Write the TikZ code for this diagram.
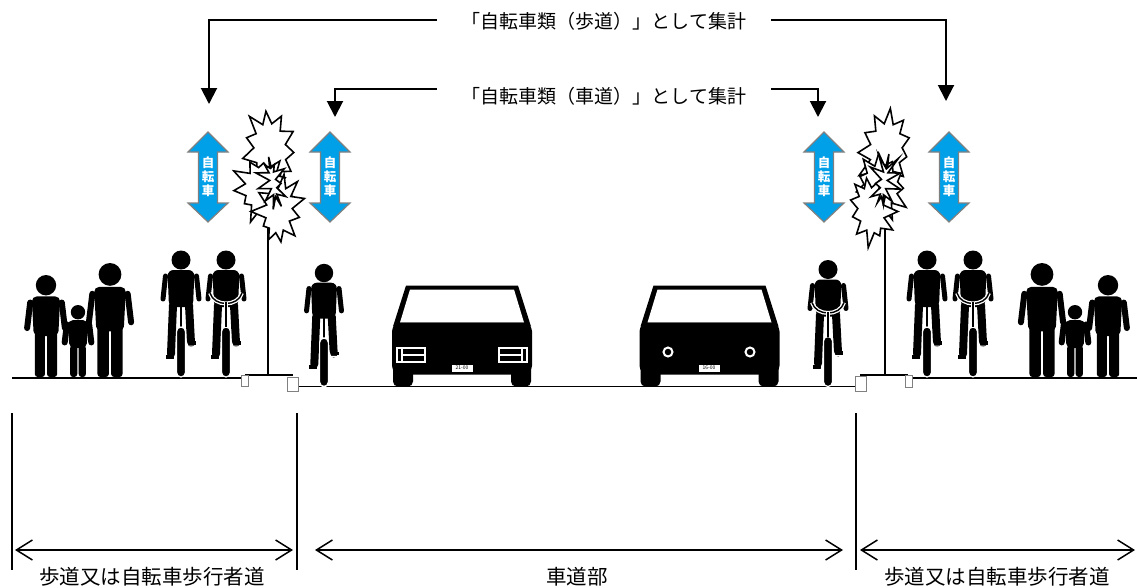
\documentclass[tikz,border=0pt]{standalone}
\usepackage{fontspec}
\setmainfont{Noto Sans CJK JP}
\usetikzlibrary{arrows.meta,shapes.symbols}
\definecolor{signblue}{RGB}{0,160,233}
\definecolor{signedge}{RGB}{128,128,128}

\tikzset{
  ground/.style={line width=1.5pt},
  callout/.style={line width=2pt, -{Triangle[length=16pt,width=16pt]}},
  dimline/.style={line width=1.5pt, {Straight Barb[length=16pt,width=20pt]}-{Straight Barb[length=16pt,width=20pt]}},
  dimtick/.style={line width=1.5pt},
  burst/.style={starburst, draw, fill=white, line width=1.6pt, starburst points=11,
                starburst point height=16pt, inner sep=0pt},
  dimlabel/.style={inner sep=0pt, font=\fontsize{20.5}{20.5}\selectfont},
  toplabel/.style={inner sep=0pt, font=\fontsize{19}{19}\selectfont},
  signpost/.style={line width=1.6pt},
  footing/.style={draw=signedge, fill=white, line width=1pt},
  % standing pedestrian, origin between the feet, 100 units tall
  pics/person/.style={code={
    \fill (0,-90) circle (10);
    \fill[rounded corners=5] (-14,-79) -- (14,-79) -- (12,-40) -- (-12,-40) -- cycle;
    \draw[line width=6pt, line cap=round] (-15.5,-73) -- (-18.5,-48);
    \draw[line width=6pt, line cap=round] (15.5,-73) -- (18.5,-48);
    \fill[rounded corners=3] (-11,-44) rectangle (-1,0);
    \fill[rounded corners=3] (1,-44) rectangle (11,0);
  }},
  % rider seen from behind, origin at the bottom of the wheel
  pics/cyclist/.style={code={
    \draw[line width=8pt, line cap=round] (-8,-72) -- (-10,-23);
    \draw[line width=8pt, line cap=round] (8,-72) -- (10,-34);
    \fill (-15,-22) rectangle (-7,-18);
    \fill (8,-36) rectangle (15,-32);
    \draw[white, line width=1pt] (-16,-17) -- (-7,-17) -- (-4,-24);
    \draw[white, line width=1pt] (16,-31) -- (7,-31) -- (5,-36);
    \draw[line width=2pt] (0,-72) -- (0,-48);
    \filldraw[draw=white, line width=1.2pt, rounded corners=4.5pt] (-4.5,-50) rectangle (4.5,0);
    \fill[rounded corners=6] (-13.5,-107) -- (13.5,-107) -- (12,-70) -- (-12,-70) -- cycle;
    \draw[line width=5pt, line cap=round] (-15.5,-101) -- (-18,-78);
    \draw[line width=5pt, line cap=round] (15.5,-101) -- (18,-78);
    \fill (0,-117) circle (9.5);
  }},
  % rider seen from the front: same figure plus the handlebar
  pics/cyclistfront/.style={code={
    \pic {cyclist};
    \draw[white, line width=4pt] (-16,-84) .. controls (-12,-70) and (12,-70) .. (16,-84);
    \draw[line width=1.4pt] (-16,-84) .. controls (-12,-70) and (12,-70) .. (16,-84);
    \draw[white, line width=4pt] (0,-75) -- (0,-50);
    \draw[line width=1.4pt] (0,-75) -- (0,-50);
  }},
  % car body shared by both cars, origin at road level under the centre
  pics/carbody/.style={code={
    \fill (-56,-101) -- (56,-101) -- (69,-60) -- (-69,-60) -- cycle;
    \fill[white] (-52,-97) -- (52,-97) -- (62,-64) -- (-62,-64) -- cycle;
    \fill[rounded corners=9] (-70,-64) rectangle (70,-12);
    \fill[rounded corners=5] (-69,-22) rectangle (-49,0);
    \fill[rounded corners=5] (49,-22) rectangle (69,0);
  }},
  % blue two-way bicycle sign
  pics/bikesign/.style={code={
    \filldraw[fill=signblue, draw=signedge, line width=1.2pt]
      (0,-45) -- (20,-25) -- (9.5,-25) -- (9.5,26) -- (20,26) -- (0,45)
      -- (-20,26) -- (-9.5,26) -- (-9.5,-25) -- (-20,-25) -- cycle;
    \node[text=white, inner sep=0pt, align=center,
          font=\fontsize{12.5}{14}\selectfont\bfseries] (-t) at (0,0) {自\\転\\車};
  }},
}

\begin{document}
\begin{tikzpicture}[x=1pt, y=-1pt]
\useasboundingbox (0,0) rectangle (1137,587);

% ---- ground profile: sidewalk, kerbs, carriageway ----
\draw[ground] (12,378) -- (241,378);
\draw[ground] (298,386.5) -- (855,386.5);
\draw[ground] (912,378) -- (1137,378);

% ---- sign posts with their footings ----
\draw[signpost] (268,225) -- (268,375);
\draw[ground] (245,375) -- (293,375);
\draw[footing] (241,375) rectangle (248,386);
\draw[footing] (287,377) rectangle (298,391);

\draw[signpost] (885,225) -- (885,375);
\draw[ground] (860,375) -- (908,375);
\draw[footing] (855,376) rectangle (866,391);
\draw[footing] (905,375) rectangle (912,387);

% ---- crash marks on the posts ----
\node[burst, minimum width=64pt, minimum height=86pt, rotate=6, random starburst=11] (bl1) at (270,150) {};
\node[burst, minimum width=66pt, minimum height=74pt, rotate=-4, random starburst=23] (bl2) at (262,188) {};
\node[burst, minimum width=58pt, minimum height=78pt, rotate=-8, random starburst=37] (bl3) at (279,210) {};
\node[burst, minimum width=38pt, minimum height=62pt, rotate=10, random starburst=41] (bl4) at (273,182) {};

\node[burst, minimum width=64pt, minimum height=86pt, rotate=-6, random starburst=53] (br1) at (886,150) {};
\node[burst, minimum width=66pt, minimum height=74pt, rotate=4, random starburst=67] (br2) at (881,186) {};
\node[burst, minimum width=58pt, minimum height=78pt, rotate=8, random starburst=71] (br3) at (871,210) {};
\node[burst, minimum width=38pt, minimum height=62pt, rotate=-10, random starburst=83] (br4) at (884,182) {};

% ---- bicycle signs ----
\pic (sgA) at (208,177) {bikesign};
\pic (sgB) at (330,177) {bikesign};
\pic (sgC) at (824,177) {bikesign};
\pic (sgD) at (949,177) {bikesign};

% ---- pedestrians ----
\path (46,377) pic[scale=1.02] {person};
\path (78,377) pic[scale=0.72] {person};
\path (110,377) pic[scale=1.14] {person};
\path (1042,377) pic[scale=1.14] {person};
\path (1075,377) pic[scale=0.72] {person};
\path (1108,377) pic[scale=1.02] {person};

% ---- cyclists ----
\path (181,377) pic {cyclist};
\path (226,377) pic {cyclistfront};
\path (324,386.5) pic[scale=0.97] {cyclist};
\path (828,386.5) pic {cyclistfront};
\path (927,377) pic {cyclist};
\path (973,377) pic {cyclistfront};

% ---- cars ----
\path (462,386.5) pic {carbody};
\draw[white, line width=1.5pt] (397,348) rectangle (425,362);
\draw[white, line width=1.2pt] (402,348) -- (402,362) (402,355) -- (425,355);
\draw[white, line width=1.5pt] (499,348) rectangle (527,362);
\draw[white, line width=1.2pt] (522,348) -- (522,362) (499,355) -- (522,355);
\node[fill=white, draw=black, line width=0.6pt, inner sep=1pt, minimum width=22pt, minimum height=8pt,
      font=\fontsize{5}{5}\selectfont] (plA) at (462,368) {21-00};

\path (709.5,386.5) pic {carbody};
\draw[white, line width=2pt] (668,352) circle (4.5);
\draw[white, line width=2pt] (750,352) circle (4.5);
\node[fill=white, draw=black, line width=0.6pt, inner sep=1pt, minimum width=22pt, minimum height=8pt,
      font=\fontsize{5}{5}\selectfont] (plB) at (709,368) {16-00};

% ---- callouts ----
\node[toplabel] (t1) at (604,21) {「自転車類（歩道）」として集計};
\node[toplabel] (t2) at (604,96) {「自転車類（車道）」として集計};
\coordinate (a1) at (209,104);
\coordinate (a2) at (946,101);
\coordinate (a3) at (335,117);
\coordinate (a4) at (818,117);
\draw[callout] ([xshift=-25pt,yshift=1pt]t1.west) -| (a1);
\draw[callout] ([xshift=25pt,yshift=1pt]t1.east) -| (a2);
\draw[callout] ([xshift=-25pt,yshift=7pt]t2.west) -| (a3);
\draw[callout] ([xshift=25pt,yshift=7pt]t2.east) -| (a4);

% ---- dimension lines ----
\coordinate (k0) at (12,413);
\coordinate (k1) at (297,413);
\coordinate (k2) at (856,413);
\draw[dimtick] (k0) -- ++(0,157);
\draw[dimtick] (k1) -- ++(0,157);
\draw[dimtick] (k2) -- ++(0,157);
\coordinate (d0) at (15,550);
\coordinate (d1) at (293,550);
\coordinate (d2) at (315,550);
\coordinate (d3) at (843,550);
\coordinate (d4) at (860,550);
\coordinate (d5) at (1135,550);
\draw[dimline] (d0) -- (d1);
\draw[dimline] (d2) -- (d3);
\draw[dimline] (d4) -- (d5);
\node[dimlabel] (l1) at (152,577) {歩道又は自転車歩行者道};
\node[dimlabel] (l2) at (577,577) {車道部};
\node[dimlabel] (l3) at (997,577) {歩道又は自転車歩行者道};
\end{tikzpicture}
\end{document}
